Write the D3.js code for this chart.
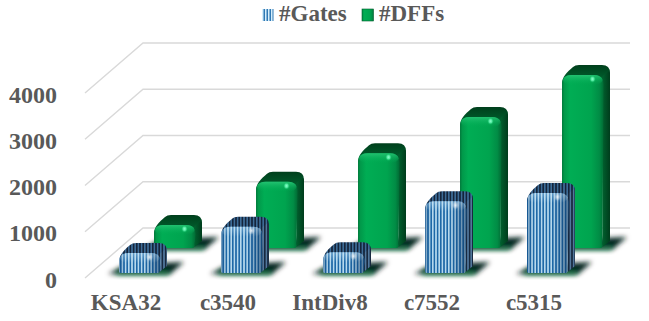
<!DOCTYPE html>
<html>
<head>
<meta charset="utf-8">
<style>
html,body{margin:0;padding:0;background:#fff}
svg{display:block}
text{font-family:"Liberation Serif",serif;font-weight:bold;fill:#595959}
</style>
<script src="https://cdn.jsdelivr.net/npm/d3@7/dist/d3.min.js"></script>
</head>
<body>
<svg id="chart" width="649" height="321"></svg>
<script>
// Circuit sizes per benchmark
const categories = ["KSA32", "c3540", "IntDiv8", "c7552", "c5315"];
const seriesNames = ["#Gates", "#DFFs"];
const gates = [430, 1000, 450, 1550, 1730];
const dffs = [500, 1430, 2050, 2830, 3740];
const yTicks = [0, 1000, 2000, 3000, 4000];

const svg = d3.select("#chart");
const defs = svg.append("defs");

const floorY = 278, topY = 93;
const y = d3.scaleLinear().domain([0, 4000]).range([floorY, topY]);
const barHeight = v => y(0) - y(v);

// Category slots along the front of the floor
const x = d3.scaleBand().domain(categories).range([91, 601]).paddingInner(0.0);
// Depth of each series into the scene
const depthX = d3.scalePoint().domain(seriesNames).range([28, 63]);
const depthY = d3.scalePoint().domain(seriesNames).range([-5, -30]);
const barW = 48, capH = 10, sideW = 6.5;

// Back wall offset for gridlines
const wall = {x: 143, dy: -50, right: 630, frontX: 85};

function linGrad(id, stops, horizontal = true) {
  const g = defs.append("linearGradient").attr("id", id)
    .attr("x1", 0).attr("y1", 0).attr("x2", horizontal ? 1 : 0).attr("y2", horizontal ? 0 : 1);
  stops.forEach(([o, c, a]) => g.append("stop").attr("offset", o).attr("stop-color", c).attr("stop-opacity", a ?? 1));
}
linGrad("greenFront", [[0, "#027a3c"], [0.06, "#01994a"], [0.2, "#00ad54"], [0.7, "#00a44f"], [0.9, "#018c45"], [1, "#016a34"]]);
linGrad("greenSide", [[0, "#01602e"], [1, "#003c1c"]]);
linGrad("greenCap", [[0, "#003f1c"], [1, "#006b34"]], false);
linGrad("greenBevel", [[0, "#27c474", 0.9], [1, "#00ae55", 0]], false);
linGrad("blueShade", [[0, "#0d3f74", 0.45], [0.14, "#0d3f74", 0.08], [0.6, "#0d3f74", 0.08], [1, "#0b2f57", 0.6]]);
linGrad("blueBevel", [[0, "#cfeafa", 0.4], [1, "#cfeafa", 0]], false);

const rg = defs.append("radialGradient").attr("id", "spot");
rg.append("stop").attr("offset", 0).attr("stop-color", "#8dffcb");
rg.append("stop").attr("offset", 0.45).attr("stop-color", "#50e9a0");
rg.append("stop").attr("offset", 1).attr("stop-color", "#00ae55").attr("stop-opacity", 0);

const rgb = defs.append("radialGradient").attr("id", "spotBlue");
rgb.append("stop").attr("offset", 0).attr("stop-color", "#ffffff").attr("stop-opacity", 0.8);
rgb.append("stop").attr("offset", 1).attr("stop-color", "#ffffff").attr("stop-opacity", 0);

// Vertical stripes of the gate bars
function stripes(id, light, dark, w) {
  const p = defs.append("pattern").attr("id", id).attr("patternUnits", "userSpaceOnUse")
    .attr("width", w).attr("height", 6);
  p.append("rect").attr("width", w).attr("height", 6).attr("fill", light);
  p.append("rect").attr("x", w * 0.5).attr("width", w * 0.5).attr("height", 6).attr("fill", dark);
}
stripes("stripeFront", "#c4e6f8", "#1f6cab", 3.2);
stripes("stripeCap", "#3d6c97", "#14243a", 3.2);
stripes("stripeSide", "#51779b", "#18293f", 3.2);
stripes("stripeKey", "#d6eefb", "#2f78b4", 3);

const blur = defs.append("filter").attr("id", "soft").attr("x", "-40%").attr("y", "-100%").attr("width", "180%").attr("height", "300%");
blur.append("feGaussianBlur").attr("stdDeviation", 2.6);

// Gridlines on the back wall and the left side wall
const grid = svg.append("g").attr("stroke", "#d9d9d9").attr("stroke-width", 1.4).attr("fill", "none");
yTicks.forEach(t => {
  const yy = y(t);
  grid.append("path").attr("d", d3.line()([
    [wall.frontX, yy],
    [wall.x, yy + wall.dy],
    [wall.right, yy + wall.dy]
  ]));
});

// A rounded bar: ground shadow, cap, side, front face and highlights
function drawBar(cat, name, value, style) {
  const bx = x(cat) + depthX(name), base = floorY + depthY(name);
  const fy = base - barHeight(value);            // top of the front face
  const fr = bx + barW - sideW;                  // right edge of the front face
  const ty = fy - capH;
  const g = svg.append("g").attr("class", "bar");

  // Ground shadow, a dark core with a green rim
  g.append("path")
    .attr("d", `M${bx - 11},${base + 1} L${bx + 6},${base - 8} L${bx + barW + 17},${base - 11} L${bx + barW + 3},${base + 1} Z`)
    .attr("fill", "#06201a").attr("filter", "url(#soft)");
  g.append("path")
    .attr("d", `M${bx - 3},${base + 2} L${bx + barW + 1},${base + 2} L${bx + barW + 3},${base - 3} L${bx - 1},${base - 3} Z`)
    .attr("fill", "#0a7a43").attr("opacity", 0.8).attr("filter", "url(#soft)");

  const r = Math.min(9, (base - fy) / 2);
  // Cap with rounded shoulders
  g.append("path")
    .attr("d", `M${bx},${fy + r} C${bx},${fy + 2} ${bx + 5},${ty + 7} ${bx + 11},${ty + 2} Q${bx + 13},${ty} ${bx + 17},${ty}
      L${bx + barW - 8},${ty} Q${bx + barW},${ty} ${bx + barW},${ty + 8}
      L${bx + barW},${fy + 10} L${fr},${fy + 10} Z`)
    .attr("fill", style.cap);
  // Right side
  g.append("path")
    .attr("d", `M${fr - 1},${fy + 1} L${bx + barW - 1},${ty + 6} Q${bx + barW},${ty + 7} ${bx + barW},${ty + 9}
      L${bx + barW},${base - 7} L${fr - 1},${base - 1} Z`)
    .attr("fill", style.side);
  // Front face
  const face = `M${bx},${base - 2} L${bx},${fy + r} Q${bx},${fy} ${bx + r},${fy}
    L${fr - r},${fy} Q${fr},${fy} ${fr},${fy + r} L${fr - 1},${base - 2} Q${fr - 1},${base} ${fr - 3},${base} L${bx + 2},${base} Q${bx},${base} ${bx},${base - 2} Z`;
  g.append("path").attr("d", face).attr("fill", style.front);
  if (style.shade) g.append("path").attr("d", face).attr("fill", style.shade);
  g.append("rect").attr("x", bx + 1).attr("y", fy).attr("width", fr - bx - 2)
    .attr("height", Math.min(10, base - fy)).attr("rx", r).attr("fill", style.bevel);
  g.append("ellipse").attr("cx", fr - 11).attr("cy", fy + 4).attr("rx", 3.5).attr("ry", 4).attr("fill", style.spot);
}

const blueStyle = {cap: "url(#stripeCap)", side: "url(#stripeSide)", front: "url(#stripeFront)",
  shade: "url(#blueShade)", bevel: "url(#blueBevel)", spot: "url(#spotBlue)"};
const greenStyle = {cap: "url(#greenCap)", side: "url(#greenSide)", front: "url(#greenFront)",
  shade: null, bevel: "url(#greenBevel)", spot: "url(#spot)"};

// Rear series first so the front series overlaps it
categories.forEach((c, i) => drawBar(c, "#DFFs", dffs[i], greenStyle));
categories.forEach((c, i) => drawBar(c, "#Gates", gates[i], blueStyle));

const labelStyle = size => `font-family:'Liberation Serif',serif;font-weight:bold;fill:#595959;font-size:${size}px`;

// Value axis labels
const yAxis = d3.axisLeft(y).tickValues(yTicks).tickSize(0).tickPadding(0).tickFormat(d3.format("d"));
const yG = svg.append("g").attr("transform", "translate(57,1.5)").call(yAxis);
yG.select(".domain").remove();
yG.selectAll("text").attr("style", labelStyle(24));

// Category labels
const xAxis = d3.axisBottom(x).tickSize(0).tickPadding(0);
const xG = svg.append("g").attr("transform", "translate(-16,294)").call(xAxis);
xG.select(".domain").remove();
xG.selectAll("text").attr("style", labelStyle(23));

// Legend
const legendX = d3.scaleOrdinal().domain(seriesNames).range([262, 362]);
const legend = svg.append("g");
seriesNames.forEach((n, i) => {
  const lx = legendX(n);
  const g = legend.append("g").attr("transform", `translate(${lx},0)`);
  g.append("rect").attr("x", 0).attr("y", 9).attr("width", 11.5).attr("height", 12)
    .attr("fill", i ? "url(#greenFront)" : "url(#stripeKey)")
    .attr("stroke", i ? "#015f2e" : "none").attr("stroke-width", 0.6);
  g.append("text").attr("x", 17).attr("y", 21).attr("style", labelStyle(23)).text(n);
});
</script>
</body>
</html>
